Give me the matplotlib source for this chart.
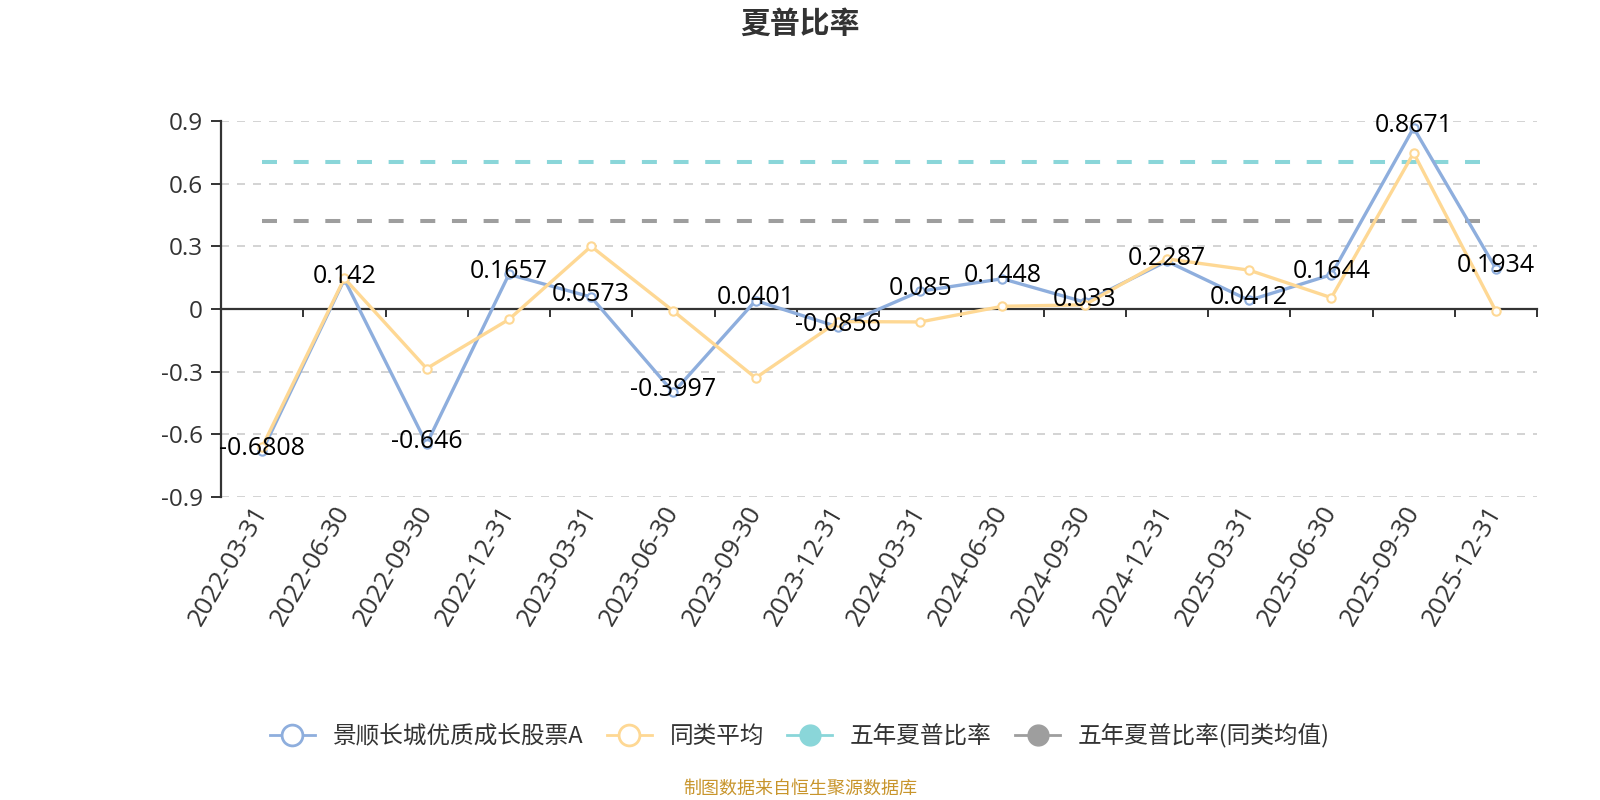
import numpy as np
import matplotlib
matplotlib.use("Agg")
import matplotlib.pyplot as plt
from matplotlib.lines import Line2D
from matplotlib.ticker import FixedLocator

plt.rcParams['font.family'] = ['Noto Sans CJK SC', 'DejaVu Sans']
plt.rcParams['axes.unicode_minus'] = False
NUMFONT = ['Open Sans', 'Noto Sans CJK SC', 'DejaVu Sans']

dates = ["2022-03-31", "2022-06-30", "2022-09-30", "2022-12-31",
         "2023-03-31", "2023-06-30", "2023-09-30", "2023-12-31",
         "2024-03-31", "2024-06-30", "2024-09-30", "2024-12-31",
         "2025-03-31", "2025-06-30", "2025-09-30", "2025-12-31"]
fund = [-0.6808, 0.142, -0.646, 0.1657, 0.0573, -0.3997, 0.0401, -0.0856,
        0.085, 0.1448, 0.033, 0.2287, 0.0412, 0.1644, 0.8671, 0.1934]
peer = [-0.66, 0.147, -0.285, -0.05, 0.30, -0.01, -0.33, -0.06,
        -0.062, 0.013, 0.02, 0.24, 0.186, 0.054, 0.747, -0.01]
five_year = 0.705
five_year_peer = 0.423
yticks = [-0.9, -0.6, -0.3, 0, 0.3, 0.6, 0.9]
ytick_labels = ["-0.9", "-0.6", "-0.3", "0", "0.3", "0.6", "0.9"]
names = ["景顺长城优质成长股票A", "同类平均", "五年夏普比率", "五年夏普比率(同类均值)"]

BLUE = '#8eaedd'
YELLOW = '#fed894'
CYAN = '#8ad6d9'
GRAY = '#9e9e9e'
DARK = '#333333'

W, H = 1600, 800
fig = plt.figure(figsize=(16, 8), dpi=100)
ax = fig.add_axes([221 / W, 1 - 497 / H, (1537 - 221) / W, 376 / H])

x = np.arange(len(dates))
ax.set_xlim(-0.5, len(dates) - 0.5)
ax.set_ylim(-0.9, 0.9)

# grid
for v in yticks:
    if v != 0:
        ax.axhline(v, color='#cccccc', lw=1.2, linestyle=(0, (4.8, 4.8)), zorder=1)

# reference lines
ax.plot([x[0], x[-1]], [five_year, five_year], color=CYAN, lw=2.9,
        linestyle=(0, (3.72, 4.14)), zorder=2)
ax.plot([x[0], x[-1]], [five_year_peer, five_year_peer], color=GRAY, lw=2.9,
        linestyle=(0, (3.72, 4.14)), zorder=2)

# series
ax.plot(x, fund, color=BLUE, lw=2.4, marker='o', markersize=6,
        markerfacecolor='white', markeredgecolor=BLUE, markeredgewidth=1.5, zorder=3)
ax.plot(x, peer, color=YELLOW, lw=2.4, marker='o', markersize=6,
        markerfacecolor='white', markeredgecolor=YELLOW, markeredgewidth=1.5, zorder=4)

for xi, v in zip(x, fund):
    ax.annotate(f"{v:g}", (xi, v), xytext=(0, 2), textcoords='offset points',
                ha='center', va='center', fontsize=18, color='black',
                family=NUMFONT, zorder=6)

# spines
for s in ['top', 'right']:
    ax.spines[s].set_visible(False)
ax.spines['bottom'].set_position(('data', 0))
ax.spines['bottom'].set_color(DARK)
ax.spines['bottom'].set_linewidth(1.6)
ax.spines['left'].set_color(DARK)
ax.spines['left'].set_linewidth(1.6)

ax.set_xticks(x)
ax.set_xticklabels(dates, rotation=60, ha='right', va='center',
                   rotation_mode='anchor', fontsize=18.5, color=DARK, family=NUMFONT)
ax.xaxis.set_minor_locator(FixedLocator(np.arange(-0.5, len(dates), 1.0)))
ax.tick_params(axis='x', which='major', length=0, pad=143)
ax.tick_params(axis='x', which='minor', length=6, width=1.4, color=DARK, direction='out')

ax.set_yticks(yticks)
ax.set_yticklabels(ytick_labels, fontsize=17.5, color=DARK, family=NUMFONT)
ax.tick_params(axis='y', length=7, width=1.4, color=DARK, pad=6)

# title
fig.text(0.5, 1 - 24 / H, "夏普比率", ha='center', va='center',
         fontsize=21.5, fontweight='bold', color=DARK)

# legend
handles = [
    Line2D([], [], color=BLUE, lw=2, marker='o', markersize=15,
           markerfacecolor='white', markeredgecolor=BLUE, markeredgewidth=2),
    Line2D([], [], color=YELLOW, lw=2, marker='o', markersize=15,
           markerfacecolor='white', markeredgecolor=YELLOW, markeredgewidth=2),
    Line2D([], [], color=CYAN, lw=2, marker='o', markersize=15,
           markerfacecolor=CYAN, markeredgecolor=CYAN),
    Line2D([], [], color=GRAY, lw=2, marker='o', markersize=15,
           markerfacecolor=GRAY, markeredgecolor=GRAY),
]
fig.legend(handles, names, loc='center', bbox_to_anchor=(0.5, 1 - 736 / H),
           ncol=4, frameon=False, fontsize=17, handlelength=1.9,
           handletextpad=0.75, columnspacing=1.0, labelcolor=DARK)

fig.text(0.5, 1 - 789 / H, "制图数据来自恒生聚源数据库", ha='center', va='center',
         fontsize=13, color='#c8952c')

fig.savefig("out.png", dpi=100)
